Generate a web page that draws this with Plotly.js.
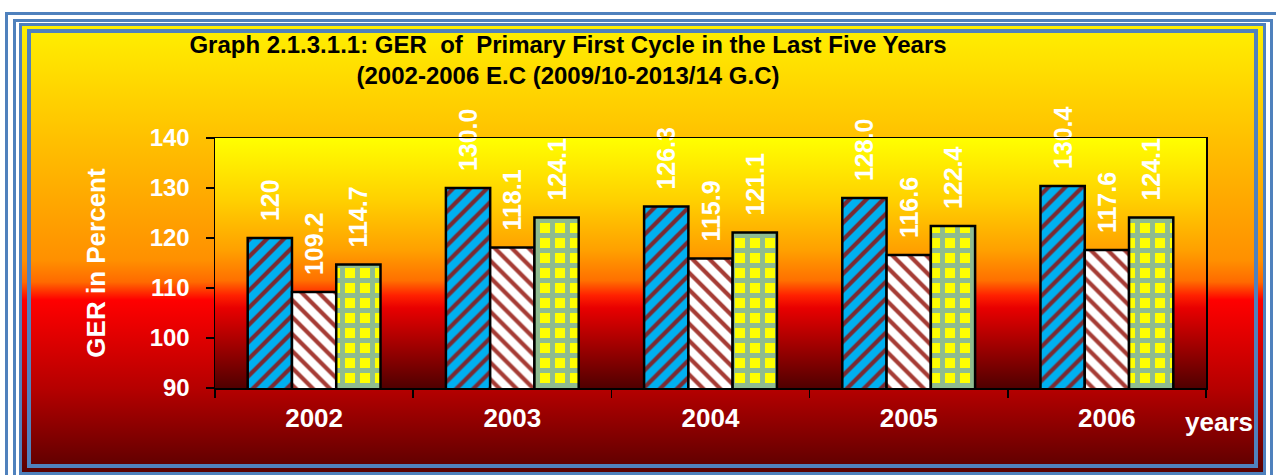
<!DOCTYPE html>
<html><head><meta charset="utf-8">
<script src="https://cdn.plot.ly/plotly-3.0.1.min.js"></script>
<style>
html,body{margin:0;padding:0;background:#fff;overflow:hidden;}
#wrap{position:relative;width:1276px;height:475px;overflow:hidden;background:#fff;}
.fr{position:absolute;box-sizing:border-box;border:3px solid #4f81bd;}
#f1{left:5px;top:12px;width:1300px;height:500px;}
#f2{left:13px;top:19px;width:1260px;height:500px;}
#f3{left:19px;top:23px;width:1247px;height:452px;}
#bg{position:absolute;left:22px;top:26px;width:1241px;height:446px;
 background:linear-gradient(to bottom,#fff000 0%,#ffc000 25.6%,#ff9000 52.5%,#ff6a00 57.4%,#ff0000 61.4%,#b40000 81.6%,#5a0000 100%);}
#f4{left:27px;top:29px;width:1231px;height:439px;border-width:4px;}
#pbg{position:absolute;left:215px;top:138px;width:991px;height:250px;
 background:linear-gradient(to bottom,#ffff00 0%,#ffd000 25%,#ffa000 45%,#ff7000 57%,#ff2000 63%,#e80000 68%,#500000 100%);}
#chart{position:absolute;left:0;top:0;width:1276px;height:475px;}
</style></head>
<body><div id="wrap">
<div class="fr" id="f1"></div>
<div class="fr" id="f2"></div>
<div class="fr" id="f3"></div>
<div id="bg"></div>
<div class="fr" id="f4"></div>
<div id="pbg"></div>
<div id="chart"></div>
</div>
<script>
const years = ['2002','2003','2004','2005','2006'];
const seriesA = [120, 130.0, 126.3, 128.0, 130.4];
const seriesB = [109.2, 118.1, 115.9, 116.6, 117.6];
const seriesC = [114.7, 124.1, 121.1, 122.4, 124.1];
const labelsA = ['120','130.0','126.3','128.0','130.4'];
const labelsB = ['109.2','118.1','115.9','116.6','117.6'];
const labelsC = ['114.7','124.1','121.1','122.4','124.1'];
const yTicks = [90,100,110,120,130,140];

const FONT = 'Liberation Sans, Arial, sans-serif';
const pad = s => '\u00a0\u00a0' + s;
const labelFont = {family: FONT, size: 25, color: '#ffffff', weight: 'bold'};
function bar(vals, labels, color, pattern){
  return {
    type:'bar', x: years, y: vals, text: labels.map(pad),
    textposition:'outside', textangle:-90, cliponaxis:false, constraintext:'none',
    textfont: labelFont, hoverinfo:'skip',
    marker:{color: color, line:{color:'#000', width:2.5}, pattern: pattern},
    showlegend:false
  };
}
const data = [
  bar(seriesA, labelsA, '#00b0f0', {shape:'/', fgcolor:'#7a2a32', bgcolor:'#00b0f0', size:12, solidity:0.35, fillmode:'replace'}),
  bar(seriesB, labelsB, '#ffffff', {shape:'\\', fgcolor:'#a63c35', bgcolor:'#ffffff', size:12, solidity:0.35, fillmode:'replace'}),
  bar(seriesC, labelsC, '#ffff00', {shape:'+', fgcolor:'#8fbc8f', bgcolor:'#ffff00', size:15, solidity:0.55, fillmode:'replace'})
];
const layout = {
  width:1276, height:475,
  margin:{l:215, r:70, t:138, b:87, pad:0},
  paper_bgcolor:'rgba(0,0,0,0)', plot_bgcolor:'rgba(0,0,0,0)',
  barmode:'group', bargap:0.33, bargroupgap:0,
  title:{
    text:'<b>Graph 2.1.3.1.1: GER\u00a0 of\u00a0 Primary First Cycle in the Last Five Years<br>(2002-2006 E.C (2009/10-2013/14 G.C)</b>',
    font:{family:FONT, size:24, color:'#000'},
    xref:'container', x:568/1276, xanchor:'center',
    yref:'container', y:1-53/475, yanchor:'top'
  },
  xaxis:{
    type:'category', tickson:'boundaries', ticks:'outside', ticklen:8, tickwidth:1.5, tickcolor:'#000',
    showline:true, linecolor:'#000', linewidth:1.5, mirror:true, showgrid:false,
    tickfont:{family:FONT, size:26, color:'#fff', weight:'bold'}, ticklabelstandoff:6
  },
  yaxis:{
    range:[90,140], tickvals:yTicks, ticktext:yTicks.map(String),
    ticks:'outside', ticklen:8, tickwidth:1.5, tickcolor:'#000',
    showline:true, linecolor:'#000', linewidth:1.5, mirror:true, showgrid:false, zeroline:false,
    tickfont:{family:FONT, size:24, color:'#fff', weight:'bold'}, ticklabelstandoff:11,
    title:{text:'GER in Percent', font:{family:FONT, size:26, color:'#fff', weight:'bold'}, standoff:36}
  },
  annotations:[{
    text:'years', xref:'paper', yref:'paper', x:(1183-215)/991, xanchor:'left',
    y:(388-422)/250, yanchor:'middle', showarrow:false,
    font:{family:FONT, size:26, color:'#fff', weight:'bold'}
  }]
};
Plotly.newPlot('chart', data, layout, {staticPlot:true, displayModeBar:false});
</script>
</body></html>
